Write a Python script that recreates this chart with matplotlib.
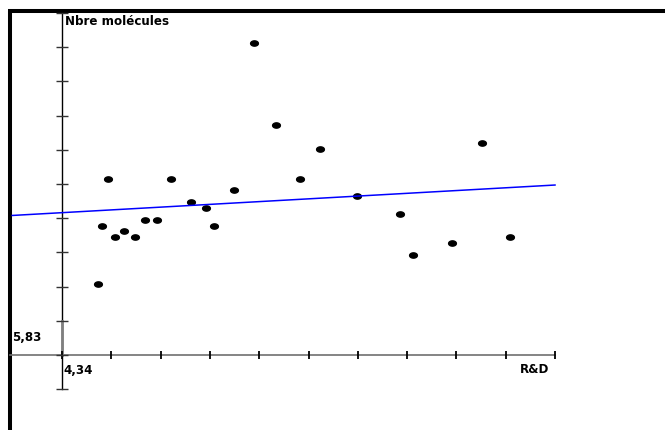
import numpy as np
import matplotlib.pyplot as plt
from matplotlib.path import Path

# data, in grid units (one unit = one tick step, origin at R&D 4,34 / Nbre 5,83)
rd = [0.93, 2.22, 3.48, 2.62, 2.92, 0.82, 3.08, 1.69, 1.92, 1.25, 1.08, 1.49,
      0.72, 3.89, 4.35, 5.23, 4.82, 8.52, 5.98, 6.85, 9.09, 7.92, 7.12]
nbre = [5.16, 5.16, 4.82, 4.48, 4.31, 3.78, 3.78, 3.95, 3.95, 3.62, 3.44, 3.44,
        2.07, 9.13, 6.72, 6.02, 5.16, 6.19, 4.65, 4.11, 3.45, 3.28, 2.92]

# regression line as drawn
fit_x = [-1.01, 10.0]
fit_y = [4.08, 4.97]

x_ticks = np.arange(0, 11)
y_ticks = np.arange(-1, 11)
x_origin_label = "4,34"
y_origin_label = "5,83"
x_title = "R&D"
y_title = "Nbre molécules"

plt.rcParams['font.family'] = ['DejaVu Sans']

fig = plt.figure(figsize=(6.65, 4.30), dpi=100)
ax = fig.add_axes([0, 0, 1, 1])
ax.set_xlim(-1.258, 12.231)
ax.set_ylim(-2.193, 10.380)
ax.axis('off')

# thick frame on left and top
ax.plot([-1.055, -1.055], [-2.3, 10.06], color='black', lw=2.9, solid_capstyle='butt')
ax.plot([-1.095, 12.3], [10.06, 10.06], color='black', lw=2.9, solid_capstyle='butt')

# axes
ax.plot([-1.055, 10], [0, 0], color='#707070', lw=1.2)
ax.plot([0, 0], [-1.0, 10], color='black', lw=1.0)
ax.plot([0, 0], [0, 1], color='#808080', lw=2.0)
ax.plot(x_ticks, np.zeros(len(x_ticks)), '|', ms=5.5, mew=1.3, color='black')
ax.plot(np.zeros(len(y_ticks)), y_ticks, '_', ms=8.5, mew=1.0, color='#333333')

# points as small flat ellipses
t = np.linspace(0, 2 * np.pi, 40)
dot = Path(np.column_stack([np.cos(t), 0.68 * np.sin(t)]))
ax.plot(rd, nbre, linestyle='none', marker=dot, ms=5.6, color='black')

ax.plot(fit_x, fit_y, color='#0000ff', lw=1.1)

fs = 8.6
ax.text(0.06, 9.74, y_title, fontsize=fs, fontweight='bold', ha='left', va='center')
ax.text(-1.014, 0.526, y_origin_label, fontsize=fs, fontweight='bold', ha='left', va='center')
ax.text(0.02, -0.44, x_origin_label, fontsize=fs, fontweight='bold', ha='left', va='center')
ax.text(9.88, -0.41, x_title, fontsize=fs, fontweight='bold', ha='right', va='center')

fig.savefig('out.png', dpi=100)
